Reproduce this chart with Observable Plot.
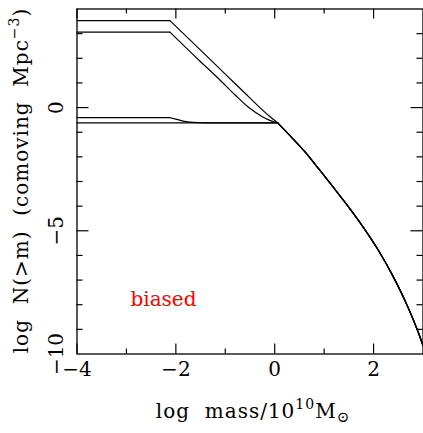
<!DOCTYPE html>
<html>
<head>
<meta charset="utf-8">
<script src="https://cdn.jsdelivr.net/npm/d3@7"></script>
<script src="https://cdn.jsdelivr.net/npm/@observablehq/plot@0.6"></script>
<style>
  body { margin: 0; background: #fff; }
  svg { display: block; }
</style>
</head>
<body>
<div id="chart"></div>
<script>
// ---- data ----
// x: log mass / 1e10 Msun ; y: log N(>m) (comoving Mpc^-3)
const curve1_logM = [-4, -2.12, -1.5, -1.0, -0.6, -0.3, -0.1, 0.06];
const curve1_logN = [3.53, 3.53, 2.33, 1.36, 0.58, 0.0, -0.36, -0.62];

const curve2_logM = [-4, -2.12, -1.5, -1.16, -0.79, -0.53, -0.25, -0.1, 0.06];
const curve2_logN = [3.06, 3.06, 1.86, 1.22, 0.49, 0.01, -0.37, -0.52, -0.62];

const curve3_logM = [-4, -2.12, -2.0, -1.85, -1.65, -1.4, 0.06];
const curve3_logN = [-0.41, -0.41, -0.47, -0.55, -0.6, -0.62, -0.62];

const curve4_logM = [-4, 0.06];
const curve4_logN = [-0.62, -0.62];

// end of the low-mass plateau of each curve
const plateauEnd = [-2.12, -2.12, -2.12, 0.06];

// common high-mass tail shared by all curves
const tail_logM = [0.06, 0.3, 0.6, 0.9, 1.2, 1.5, 1.8, 2.1, 2.4, 2.7, 2.9, 3.0];
const tail_logN = [-0.62, -1.12, -1.77, -2.51, -3.27, -4.05, -4.88, -5.8, -6.87, -8.12, -9.1, -9.66];

const xMajorTicks = [-4, -2, 0, 2];
const xMinorTicks = [-3, -1, 1];
const yMajorTicks = [-5, 0];
const yMinorTicks = [-9, -8, -7, -6, -4, -3, -2, -1, 1, 2, 3];
const xTickLabels = [-4, -2, 0, 2];
const yTickLabels = [0, -5, -10];

const annotationText = ["biased"];
const annotationLogM = [-2.25];
const annotationLogN = [-7.8];

// ---- build tables ----
const curves = [
  ["c1", curve1_logM, curve1_logN],
  ["c2", curve2_logM, curve2_logN],
  ["c3", curve3_logM, curve3_logN],
  ["c4", curve4_logM, curve4_logN]
];
const plateauRows = [], descentRows = [], tailRows = [];
curves.forEach(([name, xs, ys], k) => {
  xs.forEach((x, i) => {
    const r = {curve: name, logM: x, logN: ys[i]};
    if (x <= plateauEnd[k]) plateauRows.push(r);
    if (x >= plateauEnd[k] && plateauEnd[k] < tail_logM[0]) descentRows.push(r);
  });
  tail_logM.forEach((x, i) => tailRows.push({curve: name, logM: x, logN: tail_logN[i]}));
});
const annotations = annotationText.map((t, i) => ({text: t, logM: annotationLogM[i], logN: annotationLogN[i]}));

const W = 423, H = 433;
const mL = 76.5, mR = 0.5, mT = 8.5, mB = 79.5;
const frameW = W - mL - mR, frameH = H - mT - mB;
const font = "DejaVu Serif";
const fmt = d => (d < 0 ? "\u2212" + (-d) : String(d));
const tk = {stroke: "black", strokeWidth: 1.2};
const lineStyle = {x: "logM", y: "logN", z: "curve", stroke: "black", strokeWidth: 1.2};

const chart = Plot.plot({
  width: W,
  height: H,
  marginLeft: mL,
  marginRight: mR,
  marginTop: mT,
  marginBottom: mB,
  style: {fontFamily: font, background: "#fff", color: "black"},
  x: {domain: [-4, 3], axis: null},
  y: {domain: [-10, 4], axis: null},
  marks: [
    Plot.line(plateauRows, {...lineStyle, curve: "linear"}),
    Plot.line(descentRows, {...lineStyle, curve: "monotone-x"}),
    Plot.line(tailRows, {...lineStyle, curve: "monotone-x"}),
    Plot.frame({stroke: "black", strokeWidth: 1.3}),
    // inward ticks on all four sides
    Plot.ruleX(xMajorTicks, {...tk, x: d => d, insetTop: frameH - 10}),
    Plot.ruleX(xMinorTicks, {...tk, x: d => d, insetTop: frameH - 5}),
    Plot.ruleX(xMajorTicks, {...tk, x: d => d, insetBottom: frameH - 10}),
    Plot.ruleX(xMinorTicks, {...tk, x: d => d, insetBottom: frameH - 5}),
    Plot.ruleY(yMajorTicks, {...tk, y: d => d, insetRight: frameW - 12}),
    Plot.ruleY(yMinorTicks, {...tk, y: d => d, insetRight: frameW - 6}),
    Plot.ruleY(yMajorTicks, {...tk, y: d => d, insetLeft: frameW - 12}),
    Plot.ruleY(yMinorTicks, {...tk, y: d => d, insetLeft: frameW - 6}),
    // tick labels
    Plot.text(xTickLabels, {x: d => d, frameAnchor: "bottom", dy: 22, text: fmt, fontSize: 20, fill: "black", textAnchor: "middle"}),
    Plot.text(yTickLabels, {y: d => d, frameAnchor: "left", dx: -20, rotate: -90, text: fmt, fontSize: 20, fill: "black", textAnchor: "middle"}),
    // axis titles (rich text added below)
    Plot.text(["x"], {frameAnchor: "bottom", dy: 64, dx: 3, text: () => "XTITLE", fontSize: 20, fill: "black", textAnchor: "middle"}),
    Plot.text(["y"], {frameAnchor: "left", dx: -55, dy: -1, rotate: -90, text: () => "YTITLE", fontSize: 20, fill: "black", textAnchor: "middle"}),
    // annotation
    Plot.text(annotations, {x: "logM", y: "logN", text: "text", fill: "red", fontSize: 20})
  ]
});

document.getElementById("chart").appendChild(chart);

// rich text titles with superscripts / subscripts
const svg = d3.select(chart);
const byContent = s => svg.selectAll("text").filter(function () { return this.textContent === s; });
const xt = byContent("XTITLE");
xt.text(null).style("letter-spacing", "1px");
xt.append("tspan").text("log\u00a0\u00a0mass/10");
xt.append("tspan").attr("font-size", 14).attr("dy", -9).text("10");
xt.append("tspan").attr("dy", 9).text("M");
xt.append("tspan").attr("font-size", 15).attr("dy", 4).text("\u2299");

const yt = byContent("YTITLE");
yt.text(null).style("letter-spacing", "1px");
yt.append("tspan").text("log\u00a0\u00a0N(>m)\u00a0\u00a0(comoving\u00a0\u00a0Mpc");
yt.append("tspan").attr("font-size", 14).attr("dy", -9).text("\u22123");
yt.append("tspan").attr("dy", 9).text(")");
</script>
</body>
</html>
